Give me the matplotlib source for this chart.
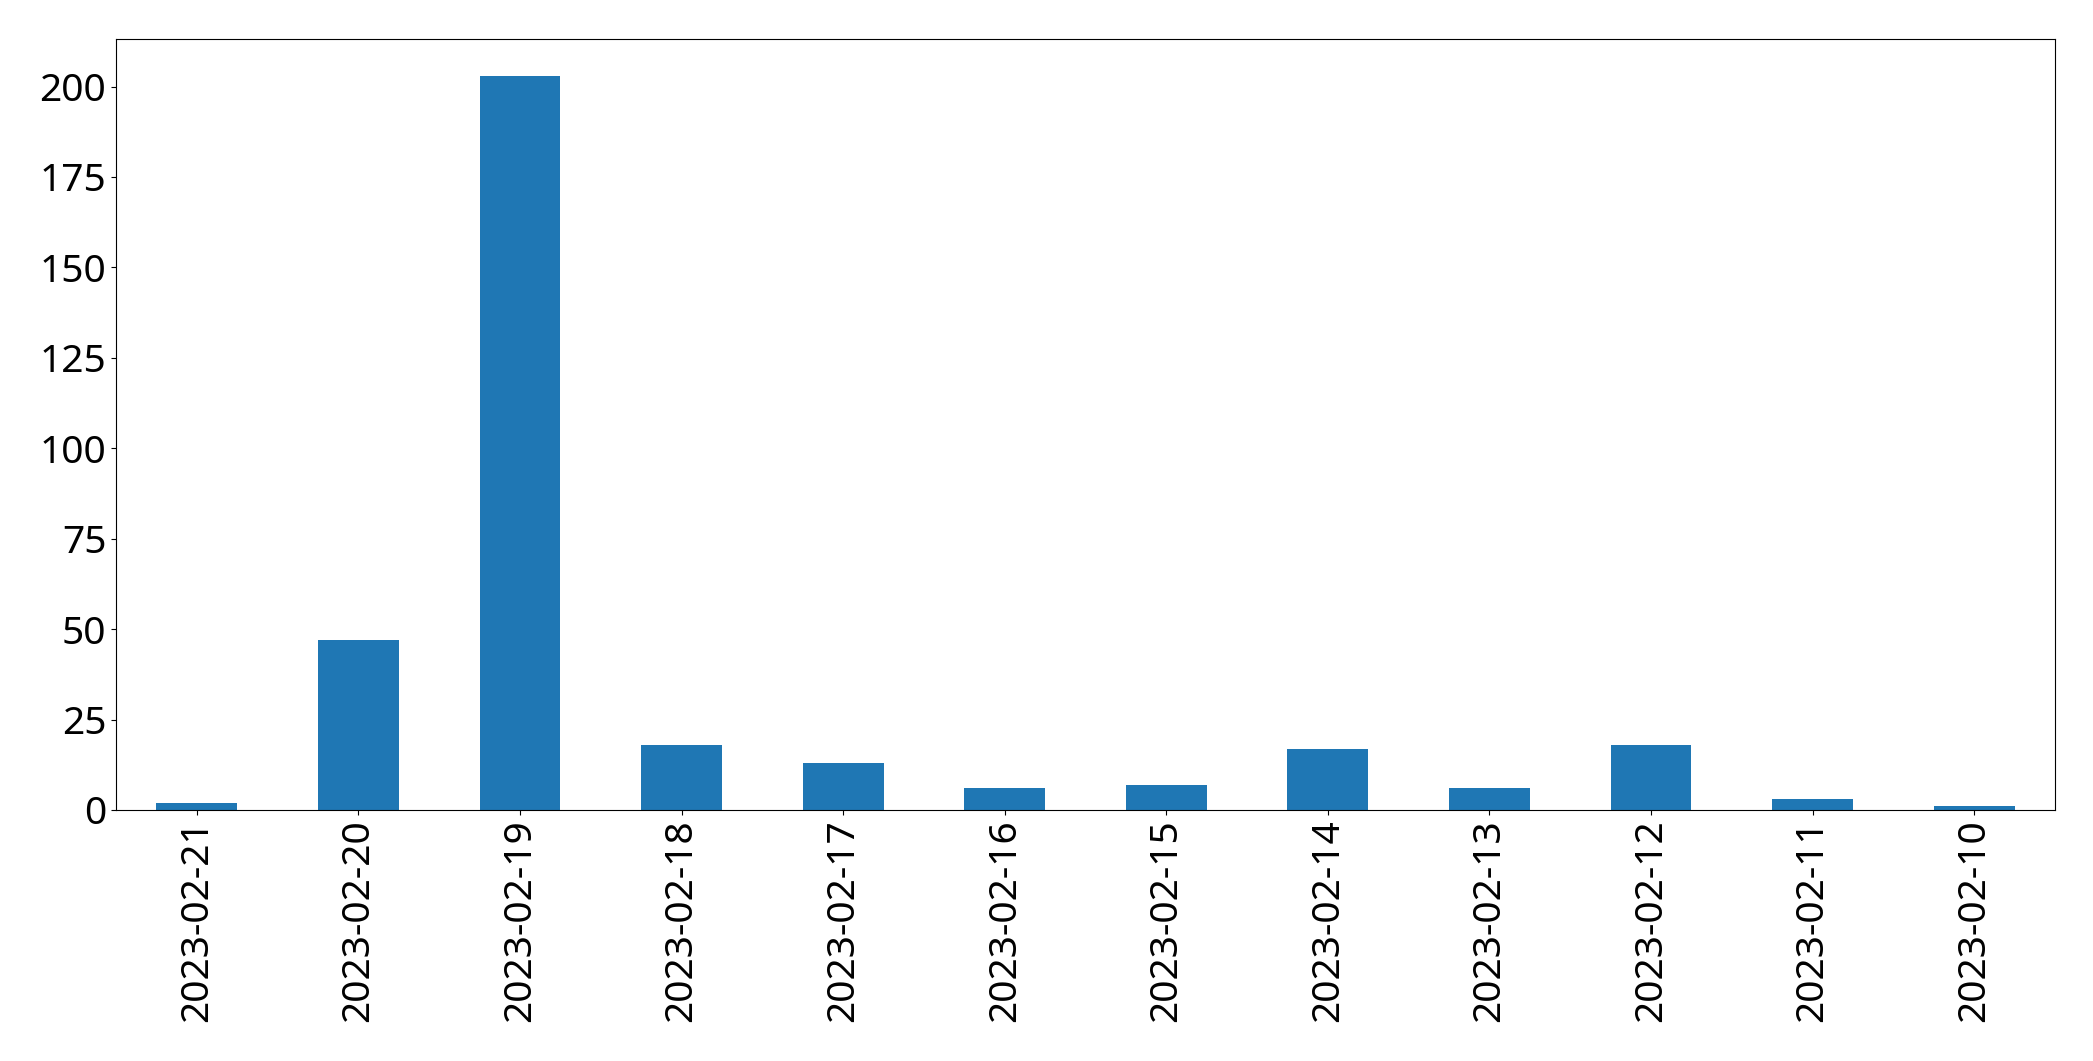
import matplotlib
matplotlib.use("Agg")
import matplotlib.pyplot as plt

dates = ["2023-02-21", "2023-02-20", "2023-02-19", "2023-02-18", "2023-02-17", "2023-02-16",
         "2023-02-15", "2023-02-14", "2023-02-13", "2023-02-12", "2023-02-11", "2023-02-10"]
counts = [2, 47, 203, 18, 13, 6, 7, 17, 6, 18, 3, 1]

plt.rcParams['font.family'] = ['Noto Sans', 'DejaVu Sans']
fig = plt.figure(figsize=(20.93, 10.61), dpi=100)
ax = fig.add_axes([116/2093, 1 - 810/1061, (2055-116)/2093, (810-39)/1061])
x = list(range(len(dates)))
ax.bar(x, counts, width=0.5, color="#1f77b4")
ax.set_xticks(x)
ax.set_xticklabels(dates, rotation=90)
ax.set_xlim(-0.5, len(dates) - 0.5)
ax.tick_params(labelsize=28)
fig.savefig("out.png", dpi=100)
